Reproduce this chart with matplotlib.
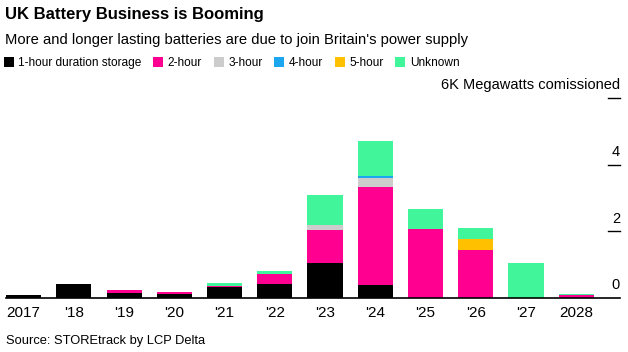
import matplotlib.pyplot as plt
import matplotlib.transforms as mtransforms
import numpy as np

plt.rcParams['font.family'] = ['Liberation Sans', 'DejaVu Sans']

years = ['2017', "'18", "'19", "'20", "'21", "'22", "'23", "'24", "'25", "'26", "'27", '2028']
one_hour = [0.09, 0.42, 0.16, 0.12, 0.32, 0.43, 1.04, 0.39, 0.0, 0.0, 0.0, 0.0]
two_hour = [0.0, 0.0, 0.08, 0.05, 0.04, 0.28, 0.99, 2.94, 2.07, 1.43, 0.0, 0.09]
three_hour = [0.0, 0.0, 0.0, 0.0, 0.0, 0.0, 0.17, 0.28, 0.0, 0.0, 0.0, 0.0]
four_hour = [0.0, 0.0, 0.0, 0.0, 0.0, 0.0, 0.0, 0.04, 0.0, 0.0, 0.0, 0.0]
five_hour = [0.0, 0.0, 0.0, 0.0, 0.0, 0.0, 0.0, 0.0, 0.0, 0.35, 0.0, 0.0]
unknown = [0.0, 0.0, 0.0, 0.0, 0.08, 0.10, 0.88, 1.05, 0.61, 0.31, 1.04, 0.04]

series = [
    ('1-hour duration storage', one_hour, '#000000'),
    ('2-hour', two_hour, '#ff0090'),
    ('3-hour', three_hour, '#cccccc'),
    ('4-hour', four_hour, '#1aa7f0'),
    ('5-hour', five_hour, '#ffc000'),
    ('Unknown', unknown, '#40f59a'),
]
y_ticks = [0, 2, 4, 6]
y_tick_labels = ['0', '2', '4', '6K Megawatts comissioned']

fig = plt.figure(figsize=(6.28, 3.52), dpi=100)
ax = fig.add_axes([0.0096, 0.1534, 0.9776, 0.5682])

x = np.arange(len(years))
bottom = np.zeros(len(years))
for name, vals, color in series:
    vals = np.array(vals)
    ax.bar(x, vals, 0.7, bottom=bottom, color=color, label=name, linewidth=0)
    bottom += vals

ax.set_xlim(-0.35, 11.87)
ax.set_ylim(0, 6)
for s in ['top', 'right', 'left']:
    ax.spines[s].set_visible(False)
ax.spines['bottom'].set_linewidth(1.2)
ax.set_xticks(x)
ax.set_xticklabels(years, fontsize=11)
ax.tick_params(axis='x', length=0, pad=6)
ax.set_yticks([])

# tick dashes on the right, labels sit above them
trans = mtransforms.blended_transform_factory(ax.transAxes, ax.transData)
for v, lab in zip(y_ticks, y_tick_labels):
    if v > 0:
        ax.plot([0.98, 1.0], [v, v], color='black', lw=1, transform=trans, clip_on=False)
    ax.text(1.0, v + 0.26, lab, transform=trans, ha='right', va='baseline', fontsize=10.5)

fig.text(0.008, 0.946, 'UK Battery Business is Booming', fontsize=12, fontweight='bold', va='baseline')
fig.text(0.008, 0.875, "More and longer lasting batteries are due to join Britain's power supply",
         fontsize=10.6, va='baseline')
fig.text(0.009, 0.023, 'Source: STOREtrack by LCP Delta', fontsize=9.3, va='baseline')

leg = fig.legend(loc='center left', bbox_to_anchor=(0.0, 0.821), ncol=6, frameon=False,
                 fontsize=8.6, handlelength=0.85, handleheight=0.85, handletextpad=0.35,
                 columnspacing=1.0, borderaxespad=0, borderpad=0.3)

plt.savefig('out.png', dpi=100)
plt.close()
